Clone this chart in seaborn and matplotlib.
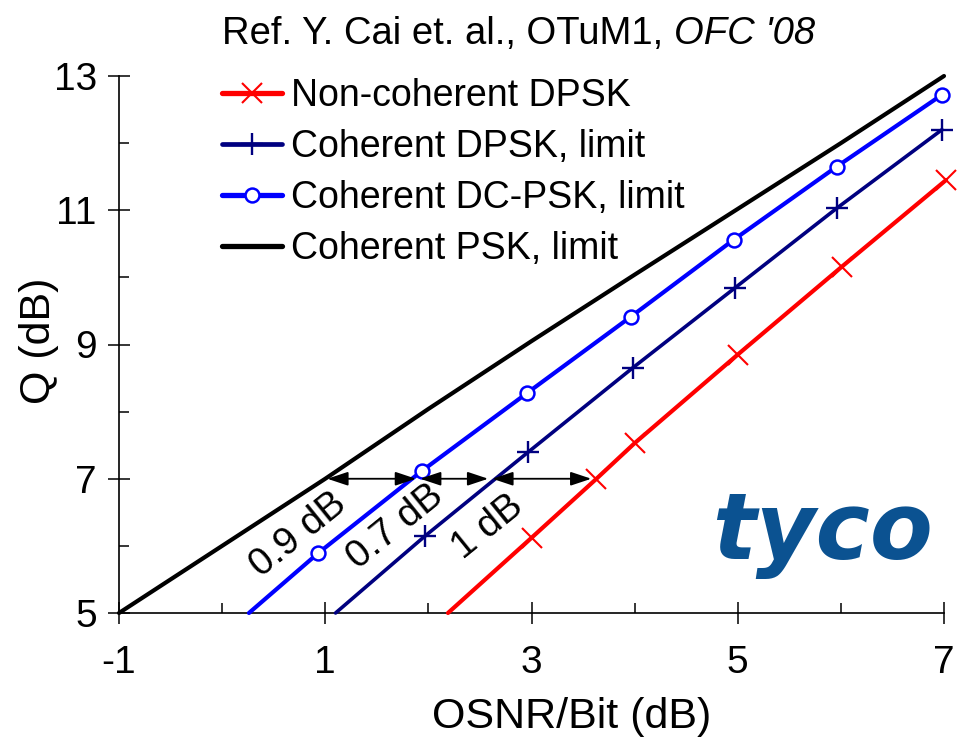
import numpy as np
import matplotlib
matplotlib.use("Agg")
import matplotlib.pyplot as plt
from matplotlib.lines import Line2D
from matplotlib.ticker import MultipleLocator
import seaborn as sns

# ---- data: Q factor (dB) versus OSNR per bit (dB) ----
noncoh_dpsk_osnr = [2.19, 3.00, 3.63, 4.00, 5.00, 6.01, 7.02]
noncoh_dpsk_q = [5.00, 6.12, 7.00, 7.53, 8.85, 10.16, 11.45]

coh_dpsk_osnr = [1.10, 1.97, 2.97, 3.98, 4.97, 5.96, 6.98]
coh_dpsk_q = [5.00, 6.15, 7.40, 8.65, 9.84, 11.03, 12.20]

coh_dcpsk_osnr = [0.26, 0.93, 1.94, 2.96, 3.96, 4.96, 5.96, 6.98]
coh_dcpsk_q = [5.00, 5.89, 7.12, 8.28, 9.41, 10.56, 11.65, 12.72]

coh_psk_osnr = [-1, 0, 1, 2, 3, 4, 5, 6, 7]
coh_psk_q = [5.00, 6.00, 7.00, 8.04, 9.05, 10.04, 11.02, 12.00, 13.00]

# OSNR penalties read at Q = 7 dB (PSK -> DC-PSK -> DPSK -> non-coherent DPSK)
penalty_q = 7.0
penalty_edges = [1.0, 1.9, 2.6, 3.6]

series_labels = ["Non-coherent DPSK", "Coherent DPSK, limit",
                 "Coherent DC-PSK, limit", "Coherent PSK, limit"]
x_ticks = [-1, 1, 3, 5, 7]
y_ticks = [5, 7, 9, 11, 13]

sns.set_style("ticks")
plt.rcParams["font.family"] = ["Liberation Sans", "DejaVu Sans"]
plt.rcParams["axes.unicode_minus"] = False
for key in ("text.color", "axes.labelcolor", "xtick.color", "ytick.color",
            "xtick.labelcolor", "ytick.labelcolor"):
    plt.rcParams[key] = "black"

fig = plt.figure(figsize=(9.57, 7.43), dpi=100)
ax = fig.add_axes([119 / 957, 130 / 743, 825 / 957, 537 / 743])

RED, NAVY, BLUE, BLACK = "#ff0000", "#000080", "#0000ff", "#000000"

styles = [
    (noncoh_dpsk_osnr, noncoh_dpsk_q, RED, 3.0,
     dict(marker="x", markersize=15, markeredgewidth=1.5, markeredgecolor=RED)),
    (coh_dpsk_osnr, coh_dpsk_q, NAVY, 2.6,
     dict(marker="+", markersize=16, markeredgewidth=1.7, markeredgecolor=NAVY)),
    (coh_dcpsk_osnr, coh_dcpsk_q, BLUE, 3.0,
     dict(marker="o", markersize=10, markerfacecolor="white",
          markeredgewidth=1.8, markeredgecolor=BLUE)),
    (coh_psk_osnr, coh_psk_q, BLACK, 3.0, None),
]

handles = []
for (xs, qs, col, lw, mk), lab in zip(styles, series_labels):
    sns.lineplot(x=xs, y=qs, color=col, linewidth=lw, sort=False,
                 estimator=None, ax=ax, clip_on=False, zorder=3)
    if mk is not None:
        # curves start at Q = 5 dB without a symbol
        sns.lineplot(x=xs[1:], y=qs[1:], color=col, linestyle="none",
                     sort=False, estimator=None, ax=ax, clip_on=False,
                     zorder=4, **mk)
        handles.append(Line2D([], [], color=col, linewidth=lw + 0.8, **mk))
    else:
        handles.append(Line2D([], [], color=col, linewidth=lw + 0.8))

ax.set_xlim(-1, 7)
ax.set_ylim(5, 13)
ax.set_xticks(x_ticks)
ax.set_yticks(y_ticks)
ax.xaxis.set_minor_locator(MultipleLocator(1))
ax.yaxis.set_minor_locator(MultipleLocator(1))
sns.despine(ax=ax)
for sp in ("left", "bottom"):
    ax.spines[sp].set_linewidth(1.2)
    ax.spines[sp].set_color("black")

ax.tick_params(which="major", direction="inout", length=16, width=1.1,
               color="black", labelsize=28, labelcolor="black")
ax.tick_params(which="minor", direction="in", length=7.5, width=1.1,
               color="black")
ax.tick_params(axis="y", which="major", pad=8)
ax.tick_params(axis="x", which="major", pad=15)

ax.set_xlabel("OSNR/Bit (dB)", fontsize=31, color="black")
ax.xaxis.set_label_coords(0.549, -0.157)
ax.set_ylabel("Q (dB)", fontsize=31, color="black")
ax.yaxis.set_label_coords(-0.073, 0.507)

leg = ax.legend(handles, series_labels, loc="upper left",
                bbox_to_anchor=(222 / 957, 1 - 78 / 743),
                bbox_transform=fig.transFigure, frameon=False, fontsize=27,
                handlelength=1.6, handletextpad=0.25, labelspacing=0.4,
                borderpad=0, borderaxespad=0, numpoints=1)
for txt in leg.get_texts():
    txt.set_color("black")

# penalty arrows and labels
label_pos = [(0.74, 6.16), (1.68, 6.28), (2.58, 6.28)]
for a, b, (lx, ly) in zip(penalty_edges[:-1], penalty_edges[1:], label_pos):
    ax.annotate("", xy=(b, penalty_q), xytext=(a, penalty_q),
                arrowprops=dict(arrowstyle="<|-|>,head_length=0.9,head_width=0.3",
                                color="black", lw=1.3, shrinkA=1.5, shrinkB=1.5,
                                mutation_scale=14), zorder=5)
    ax.text(lx, ly, f"{round(b - a, 1):g} dB", rotation=39,
            rotation_mode="anchor", ha="center", va="center", fontsize=28,
            color="black", zorder=6)

# company logo
ax.text(5.82, 5.80, "tyco", fontsize=66, fontweight="heavy", fontstyle="italic",
        family="DejaVu Sans", color="#0b5291", ha="center", va="baseline")

# reference line above the plot, journal name in italics
t1 = fig.text(222 / 957, 1 - 44 / 743, "Ref. Y. Cai et. al., OTuM1, ",
              fontsize=27.5, ha="left", va="baseline", color="black")
ax.annotate("OFC '08", xy=(1, 0), xycoords=t1, ha="left", va="bottom",
            fontsize=27.5, fontstyle="italic", color="black",
            annotation_clip=False)

fig.savefig("out.png", dpi=100)
